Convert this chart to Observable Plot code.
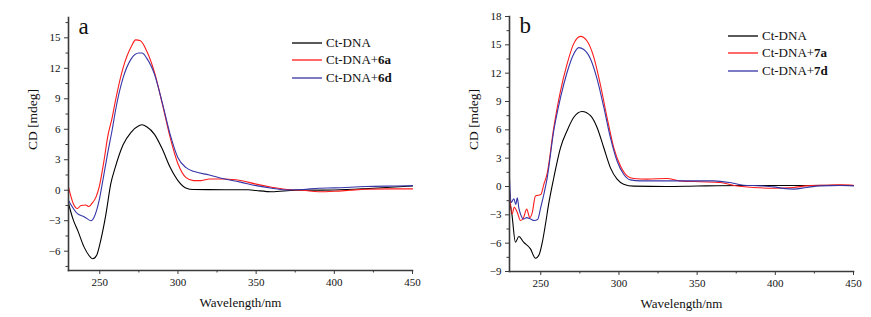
<!DOCTYPE html>
<html>
<head>
<meta charset="utf-8">
<script src="https://cdn.jsdelivr.net/npm/d3@7"></script>
<script src="https://cdn.jsdelivr.net/npm/@observablehq/plot@0.6"></script>
<style>
  body { margin: 0; background: #fff; }
  #wrap { display: flex; width: 871px; height: 317px; }
  .panel { position: relative; }
  .panel svg, .panel svg text { font-family: "Liberation Serif", "Times New Roman", serif !important; }
  .legend { position: absolute; font-family: "Liberation Serif", "Times New Roman", serif; font-size: 13px; color: #111; }
  .legend .row { display: flex; align-items: center; height: 17.5px; }
  .legend svg { margin-right: 4px; }
</style>
</head>
<body>
<div id="wrap"></div>
<script>
// ---------- Panel a data ----------
const aBlackNm = [230,233,236,240,243,245.5,248,250.5,254,257,260,265,270,275,277,280,285,290,295,300,305,310,330,345,350,360,375,400,425,450];
const aBlackCD = [-1.3,-2.9,-4.0,-5.6,-6.4,-6.75,-6.4,-5.0,-2.3,0.6,2.3,4.5,5.7,6.35,6.44,6.25,5.5,4.05,2.25,0.95,0.23,0.07,0.05,0.05,-0.03,-0.15,0,0.02,0.2,0.42];
const aRedNm = [230,233,235.7,238,241,243,245,247.5,249.6,253,255,258,260,265,270,273,276,280,285,290,295,300,305,310,315,320,330,340,350,360,370,380,390,400,410,420,435,450];
const aRedCD = [0.3,-1.3,-1.8,-1.5,-1.45,-1.6,-1.3,-0.7,0.3,3.2,5.2,7.2,8.8,12.1,14.1,14.8,14.7,13.7,11.6,8.5,5.2,2.6,1.27,0.95,0.95,1.1,1.1,0.95,0.6,0.3,0.07,0,-0.15,-0.1,0,0.1,0.13,0.13];
const aBlueNm = [230,235.7,240,244.4,246.5,249.6,252,255,258,260,265,270,275,277,280,285,290,295,300,305,310,320,330,340,350,360,370,380,390,400,420,440,450];
const aBlueCD = [-1.0,-2.3,-2.6,-3.0,-2.6,-1.0,1.0,3.6,6.0,7.8,11.1,12.9,13.5,13.5,13.0,11.4,8.6,5.5,3.2,2.25,1.86,1.5,1.1,0.8,0.45,0.2,0.03,0.07,0.2,0.23,0.36,0.42,0.45];

// ---------- Panel b data ----------
const bBlackNm = [230,231.5,233.8,236,239,243.4,246.6,249,251,253,255,258.3,262.6,266.8,271,276.4,281.8,286,290.3,294.5,298.8,303,309.4,330,350,380,400,420,440,450];
const bBlackCD = [-1.5,-2.9,-5.9,-5.3,-5.9,-6.6,-7.6,-7.2,-5.9,-4.0,-1.9,0.9,4.1,5.9,7.3,7.94,7.5,6.25,4.1,2.0,0.78,0.25,0.04,0,0.05,0.1,0.1,0.1,0.12,0.1];
const bRedNm = [230,231.7,233,235,237,239,241,243,244.5,246.6,250,252,254,258.3,262.6,266.8,271,275.4,279.6,283.9,288.1,292.4,296.7,300.9,305.2,309.4,318,330.7,339,352,364.8,373,386,399,411.7,420,433,441.5,450];
const bRedCD = [-0.5,-2.9,-2.2,-2.75,-3.6,-3.3,-2.4,-3.3,-2.8,-1.0,-0.85,0.25,1.3,6.2,10.1,12.95,15.1,15.9,15.4,13.7,10.8,7.3,4.1,2.2,1.13,0.85,0.78,0.85,0.6,0.5,0.42,0.14,-0.1,-0.18,-0.1,0.07,0.14,0.18,0.14];
const bBlueNm = [230,231,232.8,234,235,236,237,239,241,243.5,245.8,248,250,252,254,258.3,262.6,266.8,271,274.3,277.5,281.8,286,290.3,294.5,298.8,303,307.3,313.7,335,352,360.6,371,379.7,390.4,399,405,411.7,420,428.6,441.5,450];
const bBlueCD = [0.95,-1.7,-1.3,-1.9,-1.2,-2.3,-2.9,-3.45,-3.3,-3.45,-3.6,-3.5,-2.2,-0.8,0.8,5.9,9.4,12.07,14.0,14.7,14.5,13.5,11.4,8.4,5.2,2.7,1.3,0.7,0.6,0.6,0.6,0.6,0.42,0.14,0.07,-0.04,-0.2,-0.28,-0.1,0.07,0.1,0.07];

// ---------- Labels / ticks ----------
const xMajor = [250,300,350,400,450];
const xMinor = [275,325,375,425];
const aYMajor = [-6,-3,0,3,6,9,12,15];
const aYMinor = [-7.5,-4.5,-1.5,1.5,4.5,7.5,10.5,13.5,16.5];
const bYMajor = [-9,-6,-3,0,3,6,9,12,15,18];
const bYMinor = [-7.5,-4.5,-1.5,1.5,4.5,7.5,10.5,13.5,16.5];
const colors = ["#000000", "#ff1a1a", "#3535a8"];
const aLegend = [["Ct-DNA",""],["Ct-DNA+","6a"],["Ct-DNA+","6d"]];
const bLegend = [["Ct-DNA",""],["Ct-DNA+","7a"],["Ct-DNA+","7d"]];

const FONT = '"Liberation Serif", "Times New Roman", serif';
const AX = "#3a3a3a";

function series(nm, cd) { return nm.map((x, i) => ({x, y: cd[i]})); }

function panel(opts) {
  const {width, ml, mr, mt, mb, yDomain, yMajor, yMinor, data, letter} = opts;
  return Plot.plot({
    width, height: 317,
    marginLeft: ml, marginRight: mr, marginTop: mt, marginBottom: mb,
    style: {fontFamily: FONT, fontSize: "11px", color: "#111", background: "#fff"},
    x: {domain: [230, 450]},
    y: {domain: yDomain},
    marks: [
      Plot.axisX({ticks: xMajor, tickSize: 4, tickPadding: 4, label: null, stroke: AX, fontSize: 11}),
      Plot.axisX({ticks: xMinor, tickSize: 2.5, text: null, label: null, stroke: AX}),
      Plot.axisY({ticks: yMajor, tickSize: 4, tickPadding: 4, label: null, stroke: AX, fontSize: 11}),
      Plot.axisY({ticks: yMinor, tickSize: 2.5, text: null, label: null, stroke: AX}),
      ...data.map((d, i) => Plot.line(d, {x: "x", y: "y", stroke: colors[i], strokeWidth: 1.1, curve: "monotone-x"})),
      Plot.frame({anchor: "left", stroke: AX, strokeWidth: 1.6}),
      Plot.frame({anchor: "bottom", stroke: AX, strokeWidth: 1.6}),
      Plot.text([letter], {frameAnchor: "top-left", text: d => d, textAnchor: "start", lineAnchor: "bottom", dx: 10, dy: 16, fontSize: 23, fill: "#111"}),
      Plot.text(["Wavelength/nm"], {frameAnchor: "bottom", text: d => d, lineAnchor: "middle", dy: 32, fontSize: 13, fill: "#111"}),
      Plot.text(["CD [mdeg]"], {frameAnchor: "left", text: d => d, rotate: -90, lineAnchor: "middle", dx: -36, dy: 6, fontSize: 13.5, fill: "#111"})
    ]
  });
}

const NS = "http://www.w3.org/2000/svg";
function legend(items, left, top) {
  const div = document.createElement("div");
  div.className = "legend";
  div.style.left = left + "px";
  div.style.top = top + "px";
  items.forEach(([a, b], i) => {
    const row = document.createElement("div");
    row.className = "row";
    const sw = document.createElementNS(NS, "svg");
    sw.setAttribute("width", "30"); sw.setAttribute("height", "4");
    const ln = document.createElementNS(NS, "line");
    ln.setAttribute("x1", "0"); ln.setAttribute("x2", "30");
    ln.setAttribute("y1", "2"); ln.setAttribute("y2", "2");
    ln.setAttribute("stroke", colors[i]); ln.setAttribute("stroke-width", "1.3");
    sw.appendChild(ln);
    row.appendChild(sw);
    const t = document.createElement("span");
    t.textContent = a;
    row.appendChild(t);
    if (b) { const s = document.createElement("b"); s.textContent = b; row.appendChild(s); }
    div.appendChild(row);
  });
  return div;
}

const wrap = document.getElementById("wrap");
const pa = document.createElement("div"); pa.className = "panel"; pa.style.width = "440px";
const pb = document.createElement("div"); pb.className = "panel"; pb.style.width = "431px";
pa.appendChild(panel({width: 440, ml: 68, mr: 28, mt: 17, mb: 47, yDomain: [-7.9, 17], yMajor: aYMajor, yMinor: aYMinor,
  data: [series(aBlackNm, aBlackCD), series(aRedNm, aRedCD), series(aBlueNm, aBlueCD)], letter: "a"}));
pb.appendChild(panel({width: 431, ml: 69, mr: 18, mt: 16, mb: 46, yDomain: [-9, 18], yMajor: bYMajor, yMinor: bYMinor,
  data: [series(bBlackNm, bBlackCD), series(bRedNm, bRedCD), series(bBlueNm, bBlueCD)], letter: "b"}));
pa.appendChild(legend(aLegend, 292, 34));
pb.appendChild(legend(bLegend, 288, 27));
wrap.appendChild(pa);
wrap.appendChild(pb);
</script>
</body>
</html>
